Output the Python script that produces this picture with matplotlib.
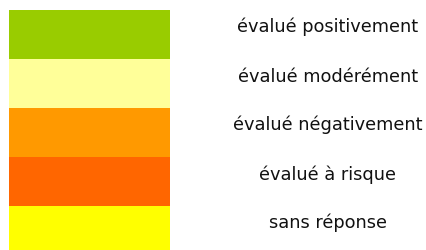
import matplotlib.pyplot as plt
import numpy as np

labels = ['évalué positivement', 'évalué modérément', 'évalué négativement',
          'évalué à risque', 'sans réponse']
colors = ['#99CC00', '#FFFF99', '#FF9900', '#FF6600', '#FFFF00']

# layout in pixels
top = 10
step = 49
x0, w = 9, 161
text_x = 328

fig = plt.figure(figsize=(4.27, 2.5), dpi=100)
ax = fig.add_axes([0, 0, 1, 1])
ax.set_xlim(0, 427)
ax.set_ylim(250, 0)
ax.axis('off')

ys = top + step * np.arange(len(labels))
ax.barh(ys, w, height=step, left=x0, align='edge', color=colors, linewidth=0)

for y, lab in zip(ys, labels):
    ax.text(text_x, y + 22.5, lab, ha='center', va='baseline',
            fontsize=12.8, color='#111111', family='DejaVu Sans')

fig.savefig('out.png', dpi=100)
